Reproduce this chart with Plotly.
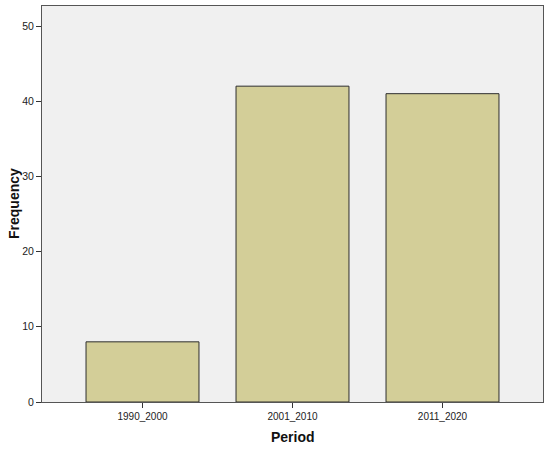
import plotly.graph_objects as go

# data
periods = ['1990_2000', '2001_2010', '2011_2020']
frequencies = [8, 42, 41]
y_ticks = [0, 10, 20, 30, 40, 50]

fig = go.Figure(go.Bar(
    x=periods, y=frequencies,
    marker=dict(color='#D3CE98', line=dict(color='#2e2e2e', width=1)),
))

fig.update_layout(
    width=550, height=449,
    margin=dict(l=42, r=7, t=6, b=47, autoexpand=False),
    paper_bgcolor='white', plot_bgcolor='#F0F0F0',
    bargap=0.247,
    showlegend=False,
    font=dict(family='Liberation Sans, Arial', color='#222'),
)

fig.update_xaxes(
    range=[-0.67, 2.67], showgrid=False, automargin=False,
    ticks='outside', ticklen=5, tickcolor='#333',
    tickfont=dict(size=10),
    showline=True, linecolor='#555', linewidth=1, mirror=True,
)
fig.update_yaxes(
    range=[0, 52.66], showgrid=False, zeroline=False, automargin=False,
    tickvals=y_ticks,
    ticks='outside', ticklen=5, tickcolor='#333',
    tickfont=dict(size=10.5),
    showline=True, linecolor='#555', linewidth=1, mirror=True,
)

# axis titles
fig.add_annotation(text='<b>Period</b>', xref='paper', yref='paper',
                   x=0.5, y=0, yanchor='middle', yshift=-35,
                   showarrow=False, font=dict(size=14, color='#111'))
fig.add_annotation(text='<b>Frequency</b>', xref='paper', yref='paper',
                   x=0, y=0.5, xanchor='center', xshift=-28, textangle=-90,
                   showarrow=False, font=dict(size=14, color='#111'))

# drop the default page margin so the figure sits at the window corner
fig.write_html('out.html', config={'displayModeBar': False},
               post_script="document.body.style.margin='0';")
